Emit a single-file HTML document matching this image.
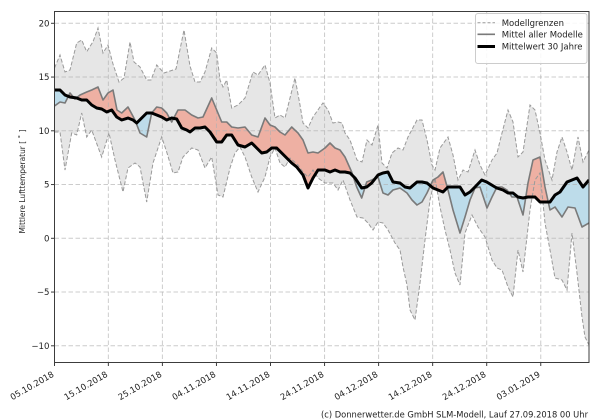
<!DOCTYPE html>
<html><head><meta charset="utf-8">
<style>
html,body{margin:0;padding:0;background:#fff;width:600px;height:420px;overflow:hidden}
svg{display:block}
text{font-family:"DejaVu Sans","Liberation Sans",sans-serif;fill:#222}
</style></head>
<body>
<svg width="600" height="420" viewBox="0 0 600 420" xmlns="http://www.w3.org/2000/svg">
<defs>
<clipPath id="ax"><rect x="54.5" y="11.5" width="534.5" height="351"/></clipPath>
<clipPath id="above"><polygon points="54.5,90 60,90 65,95 70,97 76.7,98 81.7,100 86.7,100 91.7,105 96.7,108 101.7,109 106.7,112 111.7,110 116.7,117 121.7,120 128,118 133,120 136.7,123 141.7,118 146.7,113 151.7,113 156.7,115 161.7,117 166.7,120 171.7,118 176.7,119 181.7,128 186.7,130 190,132 195,128 200,128 205,127 210,132 216.7,142 221.7,142 226.7,135 231.7,135 238,145 245,147 251.7,143 256.7,148 261.7,153 266.7,152 271.7,148 276.7,148 281.7,153 286.7,158 291.7,163 296.7,167 303,175 308,188 313,178 318,170 325,170 330,172 335,170 340,172 345,172 350,173 355,178 361.7,188 366.7,187 371.7,183 378,175 383,173 388,172 393,182 400,183 405,187 410,188 417,182 422,182 427,183 433,188 438,190 443,192 448,187 453,187 460,187 465,195 470,192 475,187 481.7,180 486.7,182 491.7,185 496.7,188 503,190 508,193 513,193 518,197 523,198 528,197 535,197 540,202 545,202 550,202 555,195 560,192 567,182 572,180 577,178 583,187 589,180 589,0 54.5,0"/></clipPath>
<clipPath id="below"><polygon points="54.5,90 60,90 65,95 70,97 76.7,98 81.7,100 86.7,100 91.7,105 96.7,108 101.7,109 106.7,112 111.7,110 116.7,117 121.7,120 128,118 133,120 136.7,123 141.7,118 146.7,113 151.7,113 156.7,115 161.7,117 166.7,120 171.7,118 176.7,119 181.7,128 186.7,130 190,132 195,128 200,128 205,127 210,132 216.7,142 221.7,142 226.7,135 231.7,135 238,145 245,147 251.7,143 256.7,148 261.7,153 266.7,152 271.7,148 276.7,148 281.7,153 286.7,158 291.7,163 296.7,167 303,175 308,188 313,178 318,170 325,170 330,172 335,170 340,172 345,172 350,173 355,178 361.7,188 366.7,187 371.7,183 378,175 383,173 388,172 393,182 400,183 405,187 410,188 417,182 422,182 427,183 433,188 438,190 443,192 448,187 453,187 460,187 465,195 470,192 475,187 481.7,180 486.7,182 491.7,185 496.7,188 503,190 508,193 513,193 518,197 523,198 528,197 535,197 540,202 545,202 550,202 555,195 560,192 567,182 572,180 577,178 583,187 589,180 589,420 54.5,420"/></clipPath>
</defs>

<g clip-path="url(#ax)">
<!-- model range fill -->
<polygon fill="#e6e6e6" stroke="none" points="54.5,68 60,55 65,72 70,70 76.7,43 81.7,40 86.7,51.7 93,41.7 98,28 103,53 108,45 113,64 119,82 124,78 130,42 134,62 140,67 146.7,80 151,80 156.7,65 164,73 170,71 176,69 184,30 190,66 195,82 200,82 205,72 211.7,48 216.7,53 220,80 223,87 226.7,80 231.7,108 238,105 245,98 253,72 258,75 265,65 270,83 275,118 280,115 285,118 290,98 295,78 300,105 303,123 308,128 313,117 320,107 323,103 328,110 333,123 338,122 342,123 345,133 350,140 357,160 362,162 367,140 372,145 378,125 382,163 387,168 392,153 398,148 403,150 408,137 417,120 422,120 427,140 432,165 435,170 440,148 448,137 453,155 458,180 463,170 468,172 475,150 480,165 485,175 492,160 497,153 502,133 508,110 513,122 518,157 523,152 530,105 535,110 540,133 545,160 552,180 557,152 562,137 567,152 572,170 578,137 583,162 589,150 589,345 585,337 582,317 577,273 572,233 567,290 562,280 555,278 550,250 545,223 540,173 535,180 530,210 523,272 518,250 513,297 508,287 502,270 497,268 492,260 485,237 478,227 472,215 465,233 460,285 455,273 450,250 445,230 440,207 435,178 430,200 425,240 420,283 415,320 410,310 407,285 403,267 400,250 395,243 388,230 383,223 378,222 373,230 368,223 363,218 357,217 350,200 343,180 338,190 333,183 325,183 318,178 313,170 308,177 303,172 298,165 290,158 285,167 280,163 275,148 270,157 265,177 258,192 251.7,177 245,157 240,147 235,153 230,168 223,197 218,195 211.7,157 205,168 198,150 191.7,148 183,157 178,172 173,173 166.7,152 161.7,137 153,163 146.7,202 140,167 135,163 128,168 123,192 115,160 109,133 101.7,157 91.7,130 86.7,137 81.7,113 76.7,135 71.7,133 65,170 60,132 54.5,132"/>

<!-- difference fills -->
<g id="diff">
<polygon clip-path="url(#above)" fill="#eeb0a3" fill-rule="evenodd" points="54.5,106 60,102 65,103 70,93 75,99 80,95 86.7,92 91.7,90 98,87 103,100 108,93 113,90 117,110 121.7,113 128,107 135,120 140,133 146.7,137 151.7,113 156.7,107 161.7,108 166.7,113 171.7,122 178,110 185,110 191.7,115 198,118 203,117 211.7,98 216.7,110 221.7,122 226.7,122 231.7,127 238,128 245,127 251.7,135 258,137 265,118 270,125 275,127 280,132 285,135 291.7,127 298,133 303,140 308,153 313,152 318,153 325,148 330,143 335,148 340,150 345,157 351.7,172 356.7,187 361.7,198 366.7,182 371.7,180 378,177 383,193 388,195 393,190 400,188 407,193 412,200 417,205 422,202 427,193 433,180 438,177 443,172 448,190 453,210 460,233 465,217 470,200 475,188 480,187 487,208 492,197 497,187 502,187 507,190 512,197 517,197 523,215 528,183 533,160 540,157 545,187 550,210 555,207 562,217 568,207 575,208 582,227 589,223 589,180 583,187 577,178 572,180 567,182 560,192 555,195 550,202 545,202 540,202 535,197 528,197 523,198 518,197 513,193 508,193 503,190 496.7,188 491.7,185 486.7,182 481.7,180 475,187 470,192 465,195 460,187 453,187 448,187 443,192 438,190 433,188 427,183 422,182 417,182 410,188 405,187 400,183 393,182 388,172 383,173 378,175 371.7,183 366.7,187 361.7,188 355,178 350,173 345,172 340,172 335,170 330,172 325,170 318,170 313,178 308,188 303,175 296.7,167 291.7,163 286.7,158 281.7,153 276.7,148 271.7,148 266.7,152 261.7,153 256.7,148 251.7,143 245,147 238,145 231.7,135 226.7,135 221.7,142 216.7,142 210,132 205,127 200,128 195,128 190,132 186.7,130 181.7,128 176.7,119 171.7,118 166.7,120 161.7,117 156.7,115 151.7,113 146.7,113 141.7,118 136.7,123 133,120 128,118 121.7,120 116.7,117 111.7,110 106.7,112 101.7,109 96.7,108 91.7,105 86.7,100 81.7,100 76.7,98 70,97 65,95 60,90 54.5,90"/>
<polygon clip-path="url(#below)" fill="#bddcea" fill-rule="evenodd" points="54.5,106 60,102 65,103 70,93 75,99 80,95 86.7,92 91.7,90 98,87 103,100 108,93 113,90 117,110 121.7,113 128,107 135,120 140,133 146.7,137 151.7,113 156.7,107 161.7,108 166.7,113 171.7,122 178,110 185,110 191.7,115 198,118 203,117 211.7,98 216.7,110 221.7,122 226.7,122 231.7,127 238,128 245,127 251.7,135 258,137 265,118 270,125 275,127 280,132 285,135 291.7,127 298,133 303,140 308,153 313,152 318,153 325,148 330,143 335,148 340,150 345,157 351.7,172 356.7,187 361.7,198 366.7,182 371.7,180 378,177 383,193 388,195 393,190 400,188 407,193 412,200 417,205 422,202 427,193 433,180 438,177 443,172 448,190 453,210 460,233 465,217 470,200 475,188 480,187 487,208 492,197 497,187 502,187 507,190 512,197 517,197 523,215 528,183 533,160 540,157 545,187 550,210 555,207 562,217 568,207 575,208 582,227 589,223 589,180 583,187 577,178 572,180 567,182 560,192 555,195 550,202 545,202 540,202 535,197 528,197 523,198 518,197 513,193 508,193 503,190 496.7,188 491.7,185 486.7,182 481.7,180 475,187 470,192 465,195 460,187 453,187 448,187 443,192 438,190 433,188 427,183 422,182 417,182 410,188 405,187 400,183 393,182 388,172 383,173 378,175 371.7,183 366.7,187 361.7,188 355,178 350,173 345,172 340,172 335,170 330,172 325,170 318,170 313,178 308,188 303,175 296.7,167 291.7,163 286.7,158 281.7,153 276.7,148 271.7,148 266.7,152 261.7,153 256.7,148 251.7,143 245,147 238,145 231.7,135 226.7,135 221.7,142 216.7,142 210,132 205,127 200,128 195,128 190,132 186.7,130 181.7,128 176.7,119 171.7,118 166.7,120 161.7,117 156.7,115 151.7,113 146.7,113 141.7,118 136.7,123 133,120 128,118 121.7,120 116.7,117 111.7,110 106.7,112 101.7,109 96.7,108 91.7,105 86.7,100 81.7,100 76.7,98 70,97 65,95 60,90 54.5,90"/>
</g>

<!-- grid -->
<g stroke="#b0b0b0" stroke-opacity="0.65" stroke-width="1" stroke-dasharray="4.5,2.5" fill="none">
<line x1="54.5" y1="23.3" x2="589" y2="23.3"/>
<line x1="54.5" y1="77.05" x2="589" y2="77.05"/>
<line x1="54.5" y1="130.8" x2="589" y2="130.8"/>
<line x1="54.5" y1="184.55" x2="589" y2="184.55"/>
<line x1="54.5" y1="238.3" x2="589" y2="238.3"/>
<line x1="54.5" y1="292.05" x2="589" y2="292.05"/>
<line x1="54.5" y1="345.8" x2="589" y2="345.8"/>
<line x1="108.35" y1="11.5" x2="108.35" y2="362.5"/>
<line x1="162.4" y1="11.5" x2="162.4" y2="362.5"/>
<line x1="216.45" y1="11.5" x2="216.45" y2="362.5"/>
<line x1="270.5" y1="11.5" x2="270.5" y2="362.5"/>
<line x1="324.55" y1="11.5" x2="324.55" y2="362.5"/>
<line x1="378.6" y1="11.5" x2="378.6" y2="362.5"/>
<line x1="432.65" y1="11.5" x2="432.65" y2="362.5"/>
<line x1="486.7" y1="11.5" x2="486.7" y2="362.5"/>
<line x1="540.75" y1="11.5" x2="540.75" y2="362.5"/>
</g>

<!-- bounds dashed -->
<g fill="none" stroke="#9a9a9a" stroke-width="1" stroke-dasharray="4,2">
<polyline points="54.5,68 60,55 65,72 70,70 76.7,43 81.7,40 86.7,51.7 93,41.7 98,28 103,53 108,45 113,64 119,82 124,78 130,42 134,62 140,67 146.7,80 151,80 156.7,65 164,73 170,71 176,69 184,30 190,66 195,82 200,82 205,72 211.7,48 216.7,53 220,80 223,87 226.7,80 231.7,108 238,105 245,98 253,72 258,75 265,65 270,83 275,118 280,115 285,118 290,98 295,78 300,105 303,123 308,128 313,117 320,107 323,103 328,110 333,123 338,122 342,123 345,133 350,140 357,160 362,162 367,140 372,145 378,125 382,163 387,168 392,153 398,148 403,150 408,137 417,120 422,120 427,140 432,165 435,170 440,148 448,137 453,155 458,180 463,170 468,172 475,150 480,165 485,175 492,160 497,153 502,133 508,110 513,122 518,157 523,152 530,105 535,110 540,133 545,160 552,180 557,152 562,137 567,152 572,170 578,137 583,162 589,150"/>
<polyline points="54.5,132 60,132 65,170 71.7,133 76.7,135 81.7,113 86.7,137 91.7,130 101.7,157 109,133 115,160 123,192 128,168 135,163 140,167 146.7,202 153,163 161.7,137 166.7,152 173,173 178,172 183,157 191.7,148 198,150 205,168 211.7,157 218,195 223,197 230,168 235,153 240,147 245,157 251.7,177 258,192 265,177 270,157 275,148 280,163 285,167 290,158 298,165 303,172 308,177 313,170 318,178 325,183 333,183 338,190 343,180 350,200 357,217 363,218 368,223 373,230 378,222 383,223 388,230 395,243 400,250 403,267 407,285 410,310 415,320 420,283 425,240 430,200 435,178 440,207 445,230 450,250 455,273 460,285 465,233 472,215 478,227 485,237 492,260 497,268 502,270 508,287 513,297 518,250 523,272 530,210 535,180 540,173 545,223 550,250 555,278 562,280 567,290 572,233 577,273 582,317 585,337 589,345"/>
</g>

<!-- mean of models -->
<polyline fill="none" stroke="#7a7a7a" stroke-width="1.6" stroke-linejoin="round" points="54.5,106 60,102 65,103 70,93 75,99 80,95 86.7,92 91.7,90 98,87 103,100 108,93 113,90 117,110 121.7,113 128,107 135,120 140,133 146.7,137 151.7,113 156.7,107 161.7,108 166.7,113 171.7,122 178,110 185,110 191.7,115 198,118 203,117 211.7,98 216.7,110 221.7,122 226.7,122 231.7,127 238,128 245,127 251.7,135 258,137 265,118 270,125 275,127 280,132 285,135 291.7,127 298,133 303,140 308,153 313,152 318,153 325,148 330,143 335,148 340,150 345,157 351.7,172 356.7,187 361.7,198 366.7,182 371.7,180 378,177 383,193 388,195 393,190 400,188 407,193 412,200 417,205 422,202 427,193 433,180 438,177 443,172 448,190 453,210 460,233 465,217 470,200 475,188 480,187 487,208 492,197 497,187 502,187 507,190 512,197 517,197 523,215 528,183 533,160 540,157 545,187 550,210 555,207 562,217 568,207 575,208 582,227 589,223"/>

<!-- 30 year mean -->
<polyline fill="none" stroke="#000" stroke-width="3" stroke-linejoin="round" points="54.5,90 60,90 65,95 70,97 76.7,98 81.7,100 86.7,100 91.7,105 96.7,108 101.7,109 106.7,112 111.7,110 116.7,117 121.7,120 128,118 133,120 136.7,123 141.7,118 146.7,113 151.7,113 156.7,115 161.7,117 166.7,120 171.7,118 176.7,119 181.7,128 186.7,130 190,132 195,128 200,128 205,127 210,132 216.7,142 221.7,142 226.7,135 231.7,135 238,145 245,147 251.7,143 256.7,148 261.7,153 266.7,152 271.7,148 276.7,148 281.7,153 286.7,158 291.7,163 296.7,167 303,175 308,188 313,178 318,170 325,170 330,172 335,170 340,172 345,172 350,173 355,178 361.7,188 366.7,187 371.7,183 378,175 383,173 388,172 393,182 400,183 405,187 410,188 417,182 422,182 427,183 433,188 438,190 443,192 448,187 453,187 460,187 465,195 470,192 475,187 481.7,180 486.7,182 491.7,185 496.7,188 503,190 508,193 513,193 518,197 523,198 528,197 535,197 540,202 545,202 550,202 555,195 560,192 567,182 572,180 577,178 583,187 589,180"/>
</g>

<!-- spines -->
<rect x="54.5" y="11.5" width="534.5" height="351" fill="none" stroke="#3c3c3c" stroke-width="1"/>

<!-- y ticks -->
<g stroke="#3c3c3c" stroke-width="1">
<line x1="51" y1="23.3" x2="54.5" y2="23.3"/>
<line x1="51" y1="77.05" x2="54.5" y2="77.05"/>
<line x1="51" y1="130.8" x2="54.5" y2="130.8"/>
<line x1="51" y1="184.55" x2="54.5" y2="184.55"/>
<line x1="51" y1="238.3" x2="54.5" y2="238.3"/>
<line x1="51" y1="292.05" x2="54.5" y2="292.05"/>
<line x1="51" y1="345.8" x2="54.5" y2="345.8"/>
<line x1="54.5" y1="362.5" x2="54.5" y2="366"/>
<line x1="108.35" y1="362.5" x2="108.35" y2="366"/>
<line x1="162.4" y1="362.5" x2="162.4" y2="366"/>
<line x1="216.45" y1="362.5" x2="216.45" y2="366"/>
<line x1="270.5" y1="362.5" x2="270.5" y2="366"/>
<line x1="324.55" y1="362.5" x2="324.55" y2="366"/>
<line x1="378.6" y1="362.5" x2="378.6" y2="366"/>
<line x1="432.65" y1="362.5" x2="432.65" y2="366"/>
<line x1="486.7" y1="362.5" x2="486.7" y2="366"/>
<line x1="540.75" y1="362.5" x2="540.75" y2="366"/>
</g>

<g font-size="8.6" text-anchor="end">
<text x="49.5" y="26.4">20</text>
<text x="49.5" y="80.15">15</text>
<text x="49.5" y="133.9">10</text>
<text x="49.5" y="187.65">5</text>
<text x="49.5" y="241.4">0</text>
<text x="49.5" y="295.15">−5</text>
<text x="49.5" y="348.9">−10</text>
</g>

<g font-size="8.5" text-anchor="end">
<text transform="translate(54.5,376) rotate(-30)">05.10.2018</text>
<text transform="translate(108.35,376) rotate(-30)">15.10.2018</text>
<text transform="translate(162.4,376) rotate(-30)">25.10.2018</text>
<text transform="translate(216.45,376) rotate(-30)">04.11.2018</text>
<text transform="translate(270.5,376) rotate(-30)">14.11.2018</text>
<text transform="translate(324.55,376) rotate(-30)">24.11.2018</text>
<text transform="translate(378.6,376) rotate(-30)">04.12.2018</text>
<text transform="translate(432.65,376) rotate(-30)">14.12.2018</text>
<text transform="translate(486.7,376) rotate(-30)">24.12.2018</text>
<text transform="translate(540.75,376) rotate(-30)">03.01.2019</text>
</g>

<text font-size="7.5" text-anchor="middle" transform="translate(25,181.5) rotate(-90)" textLength="104" lengthAdjust="spacingAndGlyphs">Mittlere Lufttemperatur [ ˚ ]</text>

<!-- legend -->
<rect x="475.5" y="13.5" width="111.5" height="50" rx="2.5" fill="#fff" fill-opacity="0.85" stroke="#cccccc" stroke-width="1"/>
<line x1="477.5" y1="22.7" x2="495" y2="22.7" stroke="#9a9a9a" stroke-width="1" stroke-dasharray="3,2"/>
<line x1="477.5" y1="34.3" x2="495" y2="34.3" stroke="#7a7a7a" stroke-width="1.6"/>
<line x1="477.5" y1="46.5" x2="495" y2="46.5" stroke="#000" stroke-width="3"/>
<g font-size="8.5">
<text x="501.7" y="25.8">Modellgrenzen</text>
<text x="501.7" y="37.4">Mittel aller Modelle</text>
<text x="501.7" y="49.6">Mittelwert 30 Jahre</text>
</g>

<text x="321" y="417.3" font-size="9" textLength="267" lengthAdjust="spacingAndGlyphs">(c) Donnerwetter.de GmbH SLM-Modell, Lauf 27.09.2018 00 Uhr</text>
</svg>
</body></html>
